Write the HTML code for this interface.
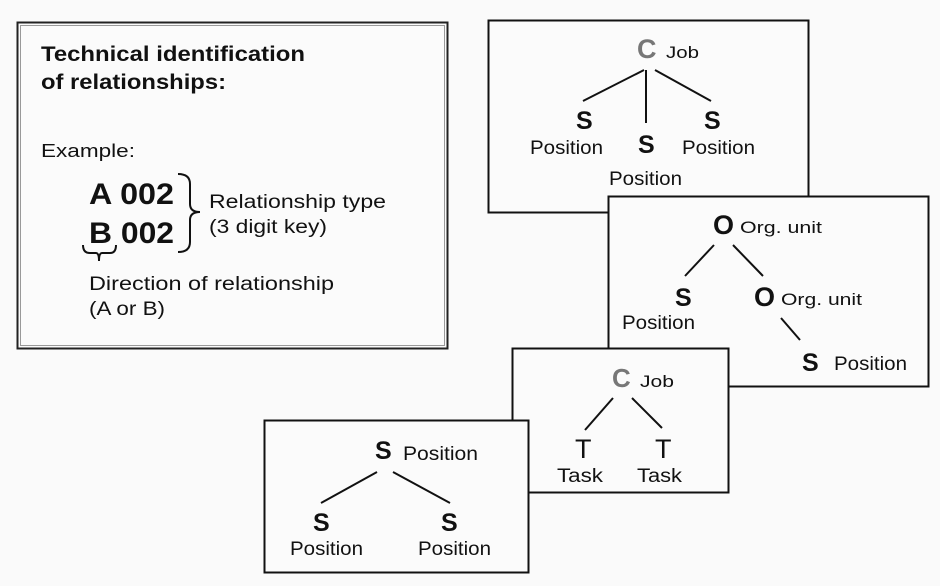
<!DOCTYPE html>
<html><head><meta charset="utf-8"><style>
body{margin:0;background:#fafafa;}
svg{display:block;}
text{font-family:"Liberation Sans",Arial,sans-serif;fill:#111;}
.b{font-weight:bold;}
</style></head><body>
<svg width="940" height="586" viewBox="0 0 940 586" xmlns="http://www.w3.org/2000/svg">
<rect x="0" y="0" width="940" height="586" fill="#fafafa"/>
<!-- Box 1 -->
<rect x="17.5" y="22.5" width="430" height="326" fill="#fbfbfb" stroke="#222" stroke-width="2"/>
<rect x="20.5" y="25.5" width="424" height="320" fill="none" stroke="#999" stroke-width="1"/>
<text x="41" y="61" font-size="21" class="b" textLength="264" lengthAdjust="spacingAndGlyphs">Technical identification</text>
<text x="41" y="89" font-size="21" class="b" textLength="185" lengthAdjust="spacingAndGlyphs">of relationships:</text>
<text x="41" y="157" font-size="18" textLength="94" lengthAdjust="spacingAndGlyphs">Example:</text>
<text x="89" y="204" font-size="30" class="b" textLength="85" lengthAdjust="spacingAndGlyphs">A 002</text>
<text x="89" y="243" font-size="30" class="b" textLength="85" lengthAdjust="spacingAndGlyphs">B 002</text>
<path d="M178 174 Q190 174 190 184 L190 204 Q190 212 200 212 Q190 212 190 220 L190 242 Q190 252 178 252" fill="none" stroke="#111" stroke-width="2"/>
<path d="M83 245 Q83 253 90 253 L96 253 Q99 253 99 261 Q99 253 102 253 L110 253 Q116 253 116 245" fill="none" stroke="#111" stroke-width="2"/>
<text x="209" y="208" font-size="19" textLength="177" lengthAdjust="spacingAndGlyphs">Relationship type</text>
<text x="209" y="233" font-size="19" textLength="118" lengthAdjust="spacingAndGlyphs">(3 digit key)</text>
<text x="89" y="290" font-size="19" textLength="245" lengthAdjust="spacingAndGlyphs">Direction of relationship</text>
<text x="89" y="315" font-size="19" textLength="76" lengthAdjust="spacingAndGlyphs">(A or B)</text>
<!-- Box 2 -->
<rect x="488.5" y="20.5" width="320" height="192" fill="#fbfbfb" stroke="#111" stroke-width="2"/>
<text x="637" y="58" font-size="27" class="b" style="fill:#777">C</text>
<text x="666" y="58" font-size="17" textLength="33" lengthAdjust="spacingAndGlyphs">Job</text>
<g stroke="#111" stroke-width="2">
<line x1="644" y1="70" x2="583" y2="101"/><line x1="646" y1="70" x2="646" y2="123"/><line x1="655" y1="70" x2="711" y2="101"/>
</g>
<text x="576" y="129" font-size="25" class="b">S</text>
<text x="638" y="153" font-size="25" class="b">S</text>
<text x="704" y="129" font-size="25" class="b">S</text>
<text x="530" y="154" font-size="19" textLength="73" lengthAdjust="spacingAndGlyphs">Position</text>
<text x="682" y="154" font-size="19" textLength="73" lengthAdjust="spacingAndGlyphs">Position</text>
<text x="609" y="185" font-size="19" textLength="73" lengthAdjust="spacingAndGlyphs">Position</text>
<!-- Box 3 -->
<rect x="608.5" y="196.5" width="320" height="190" fill="#fbfbfb" stroke="#111" stroke-width="2"/>
<text x="713" y="234" font-size="27" class="b">O</text>
<text x="740" y="233" font-size="17" textLength="82" lengthAdjust="spacingAndGlyphs">Org. unit</text>
<g stroke="#111" stroke-width="2">
<line x1="714" y1="245" x2="685" y2="276"/><line x1="733" y1="245" x2="763" y2="276"/><line x1="781" y1="318" x2="800" y2="340"/>
</g>
<text x="675" y="306" font-size="25" class="b">S</text>
<text x="622" y="329" font-size="19" textLength="73" lengthAdjust="spacingAndGlyphs">Position</text>
<text x="754" y="306" font-size="27" class="b">O</text>
<text x="781" y="305" font-size="17" textLength="81" lengthAdjust="spacingAndGlyphs">Org. unit</text>
<text x="802" y="371" font-size="25" class="b">S</text>
<text x="834" y="370" font-size="19" textLength="73" lengthAdjust="spacingAndGlyphs">Position</text>
<!-- Box 4 -->
<rect x="512.5" y="348.5" width="216" height="144" fill="#fbfbfb" stroke="#111" stroke-width="2"/>
<text x="612" y="387" font-size="26" class="b" style="fill:#777">C</text>
<text x="640" y="387" font-size="17" textLength="34" lengthAdjust="spacingAndGlyphs">Job</text>
<g stroke="#111" stroke-width="2">
<line x1="613" y1="398" x2="585" y2="430"/><line x1="632" y1="398" x2="662" y2="428"/>
</g>
<text x="575" y="458" font-size="27">T</text>
<text x="655" y="458" font-size="27">T</text>
<text x="557" y="482" font-size="19" textLength="46" lengthAdjust="spacingAndGlyphs">Task</text>
<text x="637" y="482" font-size="19" textLength="45" lengthAdjust="spacingAndGlyphs">Task</text>
<!-- Box 5 -->
<rect x="264.5" y="420.5" width="264" height="152" fill="#fbfbfb" stroke="#111" stroke-width="2"/>
<text x="375" y="459" font-size="25" class="b">S</text>
<text x="403" y="460" font-size="19" textLength="75" lengthAdjust="spacingAndGlyphs">Position</text>
<g stroke="#111" stroke-width="2">
<line x1="377" y1="472" x2="321" y2="503"/><line x1="393" y1="472" x2="450" y2="503"/>
</g>
<text x="313" y="531" font-size="25" class="b">S</text>
<text x="441" y="531" font-size="25" class="b">S</text>
<text x="290" y="555" font-size="19" textLength="73" lengthAdjust="spacingAndGlyphs">Position</text>
<text x="418" y="555" font-size="19" textLength="73" lengthAdjust="spacingAndGlyphs">Position</text>
</svg>
</body></html>
